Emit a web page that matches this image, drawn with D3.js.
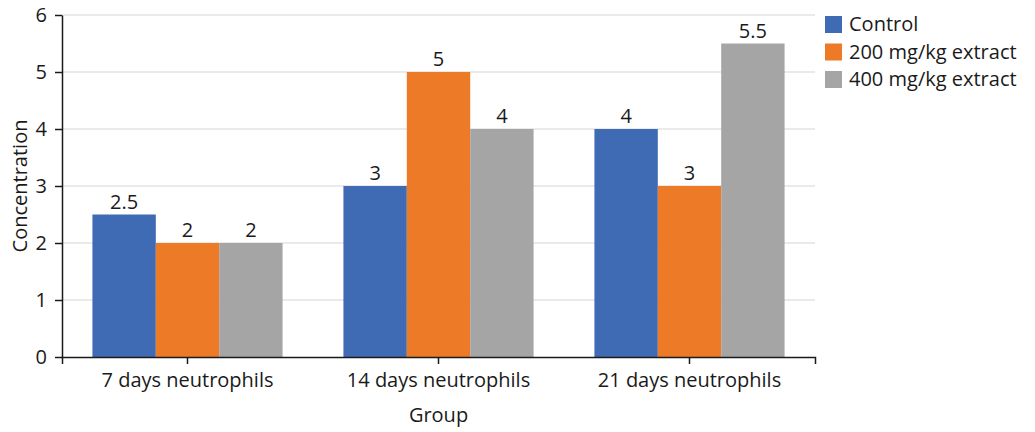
<!DOCTYPE html>
<html>
<head>
<meta charset="utf-8">
<script src="https://cdn.jsdelivr.net/npm/d3@7"></script>
<style>
  body { margin: 0; background: #fff; }
  svg text { font-family: "Open Sans", "Noto Sans", sans-serif; fill: #1a1a1a; }
</style>
</head>
<body>
<svg id="chart" width="1035" height="432"></svg>
<script>
// Neutrophil concentration by group and treatment
const groups = ["7 days neutrophils", "14 days neutrophils", "21 days neutrophils"];
const seriesNames = ["Control", "200 mg/kg extract", "400 mg/kg extract"];
const control = [2.5, 3, 4];
const extract200 = [2, 5, 3];
const extract400 = [2, 4, 5.5];
const yTicks = [0, 1, 2, 3, 4, 5, 6];
const colors = ["#3e6bb4", "#ec7a26", "#a5a5a5"];

const seriesValues = [control, extract200, extract400];

const svg = d3.select("#chart");
const plotLeft = 62, plotRight = 815, plotTop = 15, plotBottom = 357;
const x0 = d3.scaleBand().domain(groups).range([plotLeft, plotRight]).padding(0);
const x1 = d3.scaleBand().domain(seriesNames).range([0, x0.bandwidth()]).paddingInner(0).paddingOuter(0.48);
const y = d3.scaleLinear().domain([0, 6]).range([plotBottom, plotTop]);

// gridlines
svg.append("g")
  .selectAll("line")
  .data(yTicks.filter(d => d > 0))
  .join("line")
  .attr("x1", plotLeft).attr("x2", plotRight)
  .attr("y1", d => y(d)).attr("y2", d => y(d))
  .attr("stroke", "#e3e3e3").attr("stroke-width", 1.5);

// bars
const gGroups = svg.append("g")
  .selectAll("g")
  .data(groups)
  .join("g")
  .attr("transform", d => `translate(${x0(d)},0)`);

const cells = (g, gi) => seriesNames.map((s, si) => ({ s, si, v: seriesValues[si][gi] }));

gGroups.selectAll("rect")
  .data(cells)
  .join("rect")
  .attr("x", d => x1(d.s))
  .attr("width", x1.bandwidth())
  .attr("y", d => y(d.v))
  .attr("height", d => y(0) - y(d.v))
  .attr("fill", d => colors[d.si]);

gGroups.selectAll("text")
  .data(cells)
  .join("text")
  .attr("x", d => x1(d.s) + x1.bandwidth() / 2)
  .attr("y", d => y(d.v) - 6)
  .attr("text-anchor", "middle")
  .attr("font-size", 20)
  .text(d => d.v);

// axes
const yAxis = svg.append("g")
  .attr("transform", `translate(${plotLeft},0)`)
  .call(d3.axisLeft(y).tickValues(yTicks).tickFormat(d3.format("d")).tickSize(7).tickSizeOuter(0).tickPadding(8));
yAxis.selectAll("text").attr("font-size", 20);
yAxis.selectAll("line, path").attr("stroke", "#1a1a1a").attr("stroke-width", 1.5);

const xAxis = svg.append("g")
  .attr("transform", `translate(0,${y(0)})`)
  .call(d3.axisBottom(x0).tickSize(7).tickSizeOuter(7).tickPadding(9));
xAxis.selectAll("text").attr("font-size", 20);
xAxis.selectAll("line, path").attr("stroke", "#1a1a1a").attr("stroke-width", 1.5);

// axis titles
svg.append("text")
  .attr("transform", `translate(27,${(plotTop + plotBottom) / 2}) rotate(-90)`)
  .attr("text-anchor", "middle")
  .attr("font-size", 20)
  .text("Concentration");
svg.append("text")
  .attr("x", (plotLeft + plotRight) / 2)
  .attr("y", 422)
  .attr("text-anchor", "middle")
  .attr("font-size", 20)
  .text("Group");

// legend
const legend = svg.append("g").attr("transform", "translate(825,16)");
const items = legend.selectAll("g")
  .data(seriesNames)
  .join("g")
  .attr("transform", (d, i) => `translate(0,${i * 27.5})`);
items.append("rect").attr("width", 17).attr("height", 17).attr("fill", (d, i) => colors[i]);
items.append("text").attr("x", 24).attr("y", 15).attr("font-size", 20).text(d => d);
</script>
</body>
</html>
